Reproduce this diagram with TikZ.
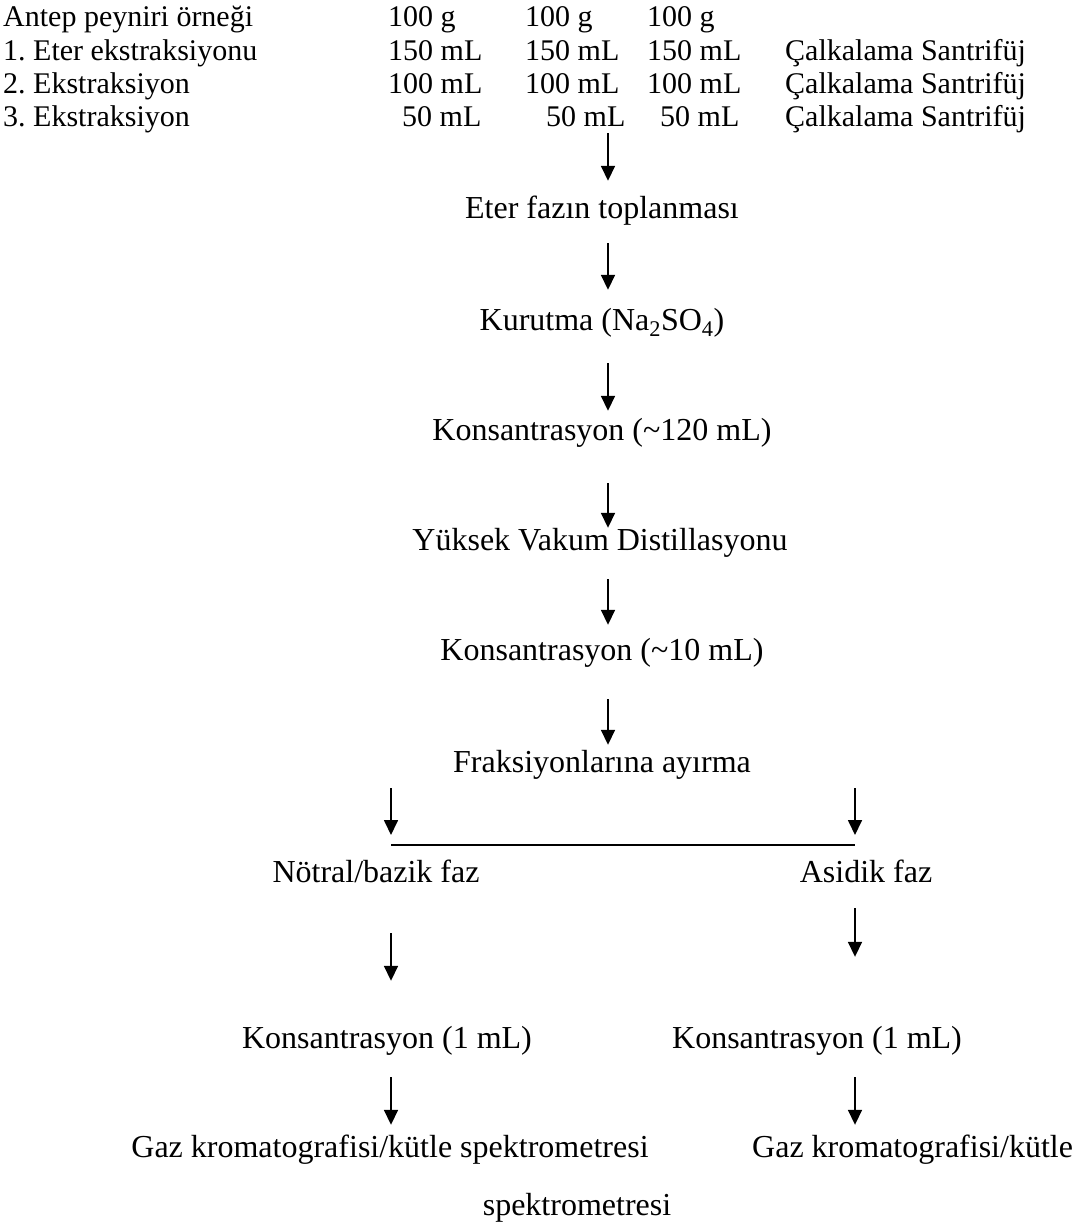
\documentclass[tikz,border=0pt]{standalone}
\usepackage{fontspec}
\setmainfont{Liberation Serif}
\usepackage{tikz}
\usetikzlibrary{arrows.meta}
\frenchspacing

\begin{document}
\begin{tikzpicture}[x=1pt, y=-1pt,
    font=\fontsize{30}{34}\selectfont,
    txt/.style={inner sep=0pt, anchor=base west, text height=20pt, text depth=6pt},
    mid/.style={txt, anchor=base, font=\fontsize{32}{36}\selectfont, text height=21pt, text depth=7pt},
    arr/.style={-{Triangle[length=15pt, width=14pt]}, line width=1.7pt}]
    \useasboundingbox (0,0) rectangle (1077,1224);

    % table rows
    \node[txt] (r1) at (3,26) {Antep peyniri örneği};
    \node[txt] (r1a) at (388,26) {100 g};
    \node[txt] (r1b) at (525,26) {100 g};
    \node[txt] (r1c) at (647,26) {100 g};

    \node[txt] (r2) at (3,60) {1. Eter ekstraksiyonu};
    \node[txt] (r2a) at (388,60) {150 mL};
    \node[txt] (r2b) at (525,60) {150 mL};
    \node[txt] (r2c) at (647,60) {150 mL};
    \node[txt] (r2d) at (785,60) {Çalkalama Santrifüj};

    \node[txt] (r3) at (3,93) {2. Ekstraksiyon};
    \node[txt] (r3a) at (388,93) {100 mL};
    \node[txt] (r3b) at (525,93) {100 mL};
    \node[txt] (r3c) at (647,93) {100 mL};
    \node[txt] (r3d) at (785,93) {Çalkalama Santrifüj};

    \node[txt] (r4) at (3,126) {3. Ekstraksiyon};
    \node[txt] (r4a) at (402,126) {50 mL};
    \node[txt] (r4b) at (546,126) {50 mL};
    \node[txt] (r4c) at (660,126) {50 mL};
    \node[txt] (r4d) at (785,126) {Çalkalama Santrifüj};

    % main chain
    \coordinate (axis) at (608,0);
    \node[mid] (eter) at (602,218) {Eter fazın toplanması};
    \node[mid] (kurutma) at (602,330) {Kurutma (Na\textsubscript{2}SO\textsubscript{4})};
    \node[mid] (kons1) at (602,440) {Konsantrasyon (\textasciitilde120 mL)};
    \node[mid] (vakum) at (600,550) {Yüksek Vakum Distillasyonu};
    \node[mid] (kons2) at (602,660) {Konsantrasyon (\textasciitilde10 mL)};
    \node[mid] (frak) at (602,772) {Fraksiyonlarına ayırma};

    \draw[arr, shorten <=1pt, shorten >=16pt] (axis |- r4b.south) to (axis |- eter.north);
    \draw[arr, shorten <=18pt, shorten >=19pt] (axis |- eter.south) to (axis |- kurutma.north);
    \draw[arr, shorten <=26pt, shorten >=8pt] (axis |- kurutma.south) to (axis |- kons1.north);
    \draw[arr, shorten <=36pt, shorten >=1pt] (axis |- kons1.south) to (axis |- vakum.north);
    \draw[arr, shorten <=22pt, shorten >=14pt] (axis |- vakum.south) to (axis |- kons2.north);
    \draw[arr, shorten <=32pt, shorten >=6pt] (axis |- kons2.south) to (axis |- frak.north);

    % split
    \coordinate (splitL) at (391,845);
    \coordinate (splitR) at (855,845);
    \draw[line width=2.2pt] (splitL) to (splitR);
    \draw[arr, shorten <=9pt, shorten >=10pt] (splitL |- frak.south) to (splitL);
    \draw[arr, shorten <=9pt, shorten >=10pt] (splitR |- frak.south) to (splitR);

    \node[mid] (notral) at (376,882) {Nötral/bazik faz};
    \node[mid] (asidik) at (866,882) {Asidik faz};
    \node[mid] (konsL) at (387,1048) {Konsantrasyon (1 mL)};
    \node[mid] (konsR) at (817,1048) {Konsantrasyon (1 mL)};
    \node[mid] (gazL) at (390,1157) {Gaz kromatografisi/kütle spektrometresi};
    \node[mid, anchor=base west] (gazR) at (752,1157) {Gaz kromatografisi/kütle};
    \node[mid] (spek) at (577,1215) {spektrometresi};

    \draw[arr, shorten <=44pt, shorten >=46pt] (splitL |- notral.south) to (splitL |- konsL.north);
    \draw[arr, shorten <=19pt, shorten >=70pt] (splitR |- asidik.south) to (splitR |- konsR.north);
    \draw[arr, shorten <=22pt, shorten >=11pt] (splitL |- konsL.south) to (splitL |- gazL.north);
    \draw[arr, shorten <=22pt, shorten >=11pt] (splitR |- konsR.south) to (splitR |- gazR.north);
\end{tikzpicture}
\end{document}
